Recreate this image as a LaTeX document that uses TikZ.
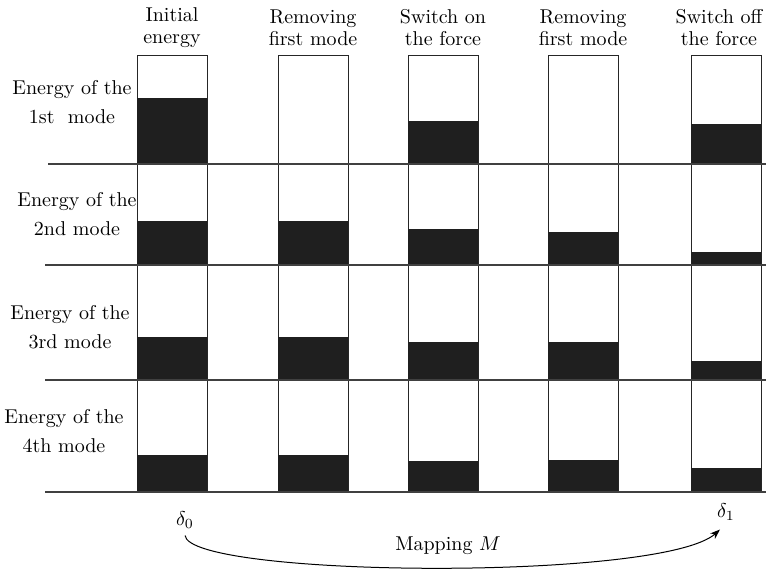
\documentclass[tikz,border=0pt]{standalone}
\usetikzlibrary{positioning, arrows.meta}

\begin{document}
\begin{tikzpicture}[
    x=0.5pt, y=-0.5pt,
    column/.style={draw=black!85, line width=0.5pt, fill=white},
    level/.style={fill=black!88},
    rowline/.style={draw=black!75, line width=1pt},
    head/.style={align=center, font=\fontsize{10}{11}\selectfont},
    rowlabel/.style={align=center, font=\fontsize{10}{14.5}\selectfont},
    mapping/.style={-{Stealth[length=5pt, width=3.6pt]}, line width=0.5pt}
]
\useasboundingbox (0,0) rectangle (766,569);

% ---------------- COLUMNS ----------------
\foreach \xl in {137,278,408,548,691}
    \draw[column] (\xl,55) rectangle +(70,437);

% ---------------- ENERGY LEVELS ----------------
% row 1
\fill[level] (137,98) rectangle (207,164);
\fill[level] (408,121) rectangle (478,164);
\fill[level] (691,124) rectangle (761,164);
% row 2
\fill[level] (137,221) rectangle (207,265);
\fill[level] (278,221) rectangle (348,265);
\fill[level] (408,229) rectangle (478,265);
\fill[level] (548,232) rectangle (618,265);
\fill[level] (691,252) rectangle (761,265);
% row 3
\fill[level] (137,337) rectangle (207,380);
\fill[level] (278,337) rectangle (348,380);
\fill[level] (408,342) rectangle (478,380);
\fill[level] (548,342) rectangle (618,380);
\fill[level] (691,361) rectangle (761,380);
% row 4
\fill[level] (137,455) rectangle (207,492);
\fill[level] (278,455) rectangle (348,492);
\fill[level] (408,461) rectangle (478,492);
\fill[level] (548,460) rectangle (618,492);
\fill[level] (691,468) rectangle (761,492);

% ---------------- ROW LINES ----------------
\draw[rowline] (48,164) -- (766,164);
\draw[rowline] (45,265) -- (766,265);
\draw[rowline] (45,380) -- (766,380);
\draw[rowline] (45,492) -- (766,492);

% ---------------- HEADERS ----------------
\node[head] (initial) at (172,28) {Initial\\energy};
\node[head] (remove1) at (313,28) {Removing\\first mode};
\node[head] (switchon) at (443,28) {Switch on\\the force};
\node[head] (remove2) at (583,28) {Removing\\first mode};
\node[head] (switchoff) at (719,28) {Switch off\\the force};

% ---------------- ROW LABELS ----------------
\node[rowlabel] (mode1) at (72,102) {Energy of the\\1st\ \ mode};
\node[rowlabel] (mode2) at (77,214) {Energy of the\\2nd mode};
\node[rowlabel] (mode3) at (70,327) {Energy of the\\3rd mode};
\node[rowlabel] (mode4) at (64,431) {Energy of the\\4th mode};

% ---------------- MAPPING ----------------
\node (d0) at (185,520) {$\delta_0$};
\node (d1) at (726,512) {$\delta_1$};
\node (map) at (448,546) {Mapping $M$};

\draw[mapping] (d0.south) .. controls +(5,42) and +(-58,52) .. ([xshift=-3pt,yshift=-1pt]d1.south);

\end{tikzpicture}
\end{document}
